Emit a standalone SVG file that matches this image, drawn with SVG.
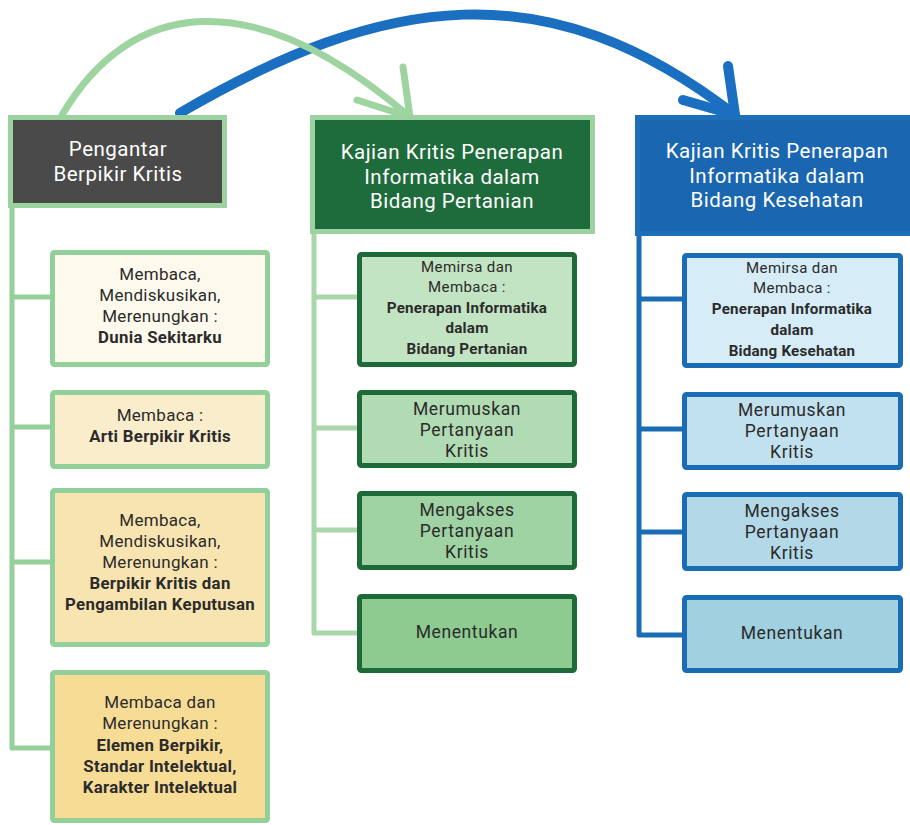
<svg xmlns="http://www.w3.org/2000/svg" width="910" height="825" viewBox="0 0 910 825">
<style>
text{font-family:Roboto,"Liberation Sans",sans-serif;text-anchor:middle;fill:#2b2b2b}
.h{font-size:20.5px;fill:#ffffff;letter-spacing:0.5px}
.t{font-size:17px;letter-spacing:0.3px}
.tb{font-size:16.8px;font-weight:bold;letter-spacing:0.3px}
.u{font-size:17.5px;letter-spacing:0.6px}
.s{font-size:15px;letter-spacing:0.4px}
.sb{font-size:15.2px;font-weight:bold;letter-spacing:0.2px}
.lg{stroke:#95d09a;stroke-width:5;fill:none}
.mg{stroke:#a9d6aa;stroke-width:5;fill:none}
.bl{stroke:#1a6cb4;stroke-width:5;fill:none}
.cl{stroke:#93cf98;stroke-width:5}
.cm{stroke:#1d6a38;stroke-width:5}
.cr{stroke:#1a6cb4;stroke-width:5}
</style>
<rect width="910" height="825" fill="#ffffff"/>
<g id="connectors" stroke-linecap="round" stroke-linejoin="round">
<path d="M180 113 C384 -6 547 -31 735 115" stroke="#1a6fc0" stroke-width="10" fill="none"/>
<path d="M728 66 L735 115 L683 100" stroke="#1a6fc0" stroke-width="10" fill="none"/>
<path d="M62 115 C130 0 250 -20 410 117" stroke="#9dd49f" stroke-width="7" fill="none"/>
<path d="M403 67 L410 117 L357 100" stroke="#9dd49f" stroke-width="7" fill="none"/>
<path class="lg" stroke-linecap="butt" d="M12 205 V748 H52 M12 297 H52 M12 427 H52 M12 562 H52"/>
<path class="mg" stroke-linecap="butt" d="M314 232 V633 H359 M314 297 H359 M314 428 H359 M314 530 H359"/>
<path class="bl" stroke-linecap="butt" d="M639 234 V635 H684 M639 299 H684 M639 429 H684 M639 532 H684"/>
</g>
<g id="h1">
<rect x="10.5" y="117.5" width="214" height="88" fill="#4a4a4a" stroke="#9bd29f" stroke-width="5"/>
<text class="h" x="118" y="156">Pengantar</text>
<text class="h" x="118" y="181">Berpikir Kritis</text>
</g>
<g id="h2">
<rect x="312.5" y="117.5" width="280" height="114" fill="#1e6b3b" stroke="#9bd29f" stroke-width="5"/>
<text class="h" x="452" y="159">Kajian Kritis Penerapan</text>
<text class="h" x="452" y="183.5">Informatika dalam</text>
<text class="h" x="452" y="208">Bidang Pertanian</text>
</g>
<g id="h3">
<rect x="637.5" y="117.5" width="285" height="116" fill="#1a66b0" stroke="#1d6fb8" stroke-width="5"/>
<text class="h" x="777" y="158">Kajian Kritis Penerapan</text>
<text class="h" x="777" y="182.5">Informatika dalam</text>
<text class="h" x="777" y="207">Bidang Kesehatan</text>
</g>
<g id="l1">
<rect class="cl" x="52.5" y="252.5" width="215" height="112" fill="#fdf9ec" rx="2"/>
<text class="t" x="160" y="280">Membaca,</text>
<text class="t" x="160" y="301">Mendiskusikan,</text>
<text class="t" x="160" y="322">Merenungkan :</text>
<text class="tb" x="160" y="343">Dunia Sekitarku</text>
</g>
<g id="l2">
<rect class="cl" x="52.5" y="392.5" width="215" height="74" fill="#faedcb" rx="2"/>
<text class="t" x="160" y="421">Membaca :</text>
<text class="tb" x="160" y="442">Arti Berpikir Kritis</text>
</g>
<g id="l3">
<rect class="cl" x="52.5" y="490.5" width="215" height="154" fill="#f8e4b0" rx="2"/>
<text class="t" x="160" y="526">Membaca,</text>
<text class="t" x="160" y="547">Mendiskusikan,</text>
<text class="t" x="160" y="568">Merenungkan :</text>
<text class="tb" x="160" y="589">Berpikir Kritis dan</text>
<text class="tb" x="160" y="610">Pengambilan Keputusan</text>
</g>
<g id="l4">
<rect class="cl" x="52.5" y="672.5" width="215" height="148" fill="#f7dc96" rx="2"/>
<text class="t" x="160" y="708">Membaca dan</text>
<text class="t" x="160" y="729">Merenungkan :</text>
<text class="tb" x="160" y="751">Elemen Berpikir,</text>
<text class="tb" x="160" y="772">Standar Intelektual,</text>
<text class="tb" x="160" y="793">Karakter Intelektual</text>
</g>
<g id="m1">
<rect class="cm" x="359.5" y="254.5" width="215" height="110" fill="#c3e4c3" rx="2"/>
<text class="s" x="467" y="272">Memirsa dan</text>
<text class="s" x="467" y="292">Membaca :</text>
<text class="sb" x="467" y="313">Penerapan Informatika</text>
<text class="sb" x="467" y="333">dalam</text>
<text class="sb" x="467" y="354">Bidang Pertanian</text>
</g>
<g id="m2">
<rect class="cm" x="359.5" y="392.5" width="215" height="73" fill="#b1dbb3" rx="2"/>
<text class="u" x="467" y="415">Merumuskan</text>
<text class="u" x="467" y="436">Pertanyaan</text>
<text class="u" x="467" y="457">Kritis</text>
</g>
<g id="m3">
<rect class="cm" x="359.5" y="493.5" width="215" height="74" fill="#a0d3a3" rx="2"/>
<text class="u" x="467" y="516">Mengakses</text>
<text class="u" x="467" y="537">Pertanyaan</text>
<text class="u" x="467" y="558">Kritis</text>
</g>
<g id="m4">
<rect class="cm" x="359.5" y="596.5" width="215" height="74" fill="#8ecb91" rx="2"/>
<text class="u" x="467" y="638">Menentukan</text>
</g>
<g id="r1">
<rect class="cr" x="684.5" y="255.5" width="216" height="110" fill="#d6ecf6" rx="2"/>
<text class="s" x="792" y="273">Memirsa dan</text>
<text class="s" x="792" y="293">Membaca :</text>
<text class="sb" x="792" y="314">Penerapan Informatika</text>
<text class="sb" x="792" y="335">dalam</text>
<text class="sb" x="792" y="356">Bidang Kesehatan</text>
</g>
<g id="r2">
<rect class="cr" x="684.5" y="394.5" width="216" height="73" fill="#c2e1ee" rx="2"/>
<text class="u" x="792" y="416">Merumuskan</text>
<text class="u" x="792" y="437">Pertanyaan</text>
<text class="u" x="792" y="458">Kritis</text>
</g>
<g id="r3">
<rect class="cr" x="684.5" y="494.5" width="216" height="74" fill="#b3d9e9" rx="2"/>
<text class="u" x="792" y="517">Mengakses</text>
<text class="u" x="792" y="538">Pertanyaan</text>
<text class="u" x="792" y="559">Kritis</text>
</g>
<g id="r4">
<rect class="cr" x="684.5" y="597.5" width="216" height="73" fill="#a1d0e0" rx="2"/>
<text class="u" x="792" y="639">Menentukan</text>
</g>
</svg>
